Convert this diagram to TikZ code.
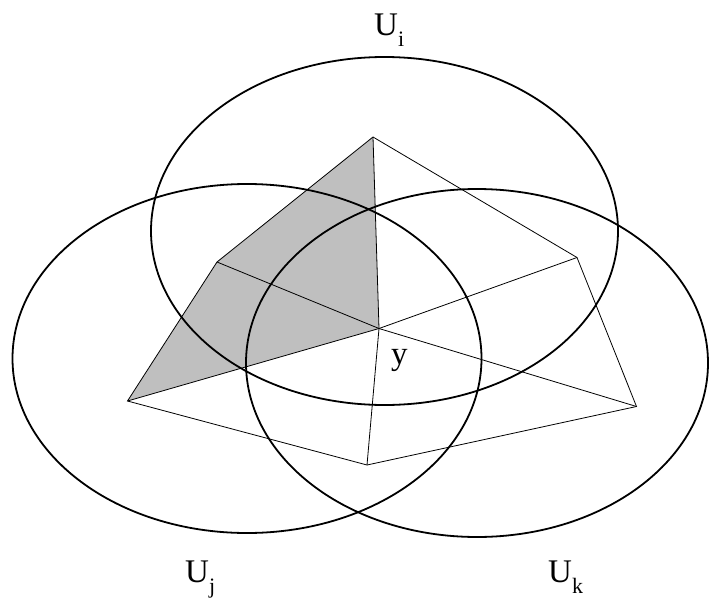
\documentclass[tikz,border=0pt]{standalone}
\usepackage{fontspec}
\setmainfont{Liberation Serif}
\newcommand{\mysub}[1]{\raisebox{-11pt}{\fontsize{22}{22}\selectfont #1}}
\begin{document}
\begin{tikzpicture}[x=1pt,y=-1pt,
  setline/.style={line width=1.8pt},
  edgeline/.style={line width=0.8pt},
  lbl/.style={anchor=base west,inner sep=0pt,font=\fontsize{33}{33}\selectfont}]
\useasboundingbox (0,0) rectangle (709,605);
% vertices
\coordinate (T) at (373,137);
\coordinate (A) at (217,262);
\coordinate (B) at (127.5,401);
\coordinate (C) at (379,328.5);
\coordinate (D) at (636.5,406.5);
\coordinate (E) at (577,257.5);
\coordinate (F) at (367,465);
% shaded region
\fill[gray!50] (B) -- (A) -- (T) -- (C) -- cycle;
% hexagon
\draw[edgeline,line join=miter] (T) -- (E) -- (D) -- (F) -- (B) -- (A) -- cycle;
% spokes
\foreach \v in {T,A,B,D,E,F} \draw[edgeline] (C) -- (\v);
% open sets
\draw[setline] (384.5,231) ellipse [x radius=233.5pt, y radius=174pt];
\draw[setline] (247,358.5) ellipse [x radius=234.5pt, y radius=174.5pt];
\draw[setline] (477,363) ellipse [x radius=231pt, y radius=174pt];
% labels
\node[lbl] (Ui) at (374,35) {U\mysub{i}};
\node[lbl] (Uj) at (185,582) {U\mysub{j}};
\node[lbl] (Uk) at (548,582) {U\mysub{k}};
\node[lbl] (y) at (391,364) {y};
\end{tikzpicture}
\end{document}
